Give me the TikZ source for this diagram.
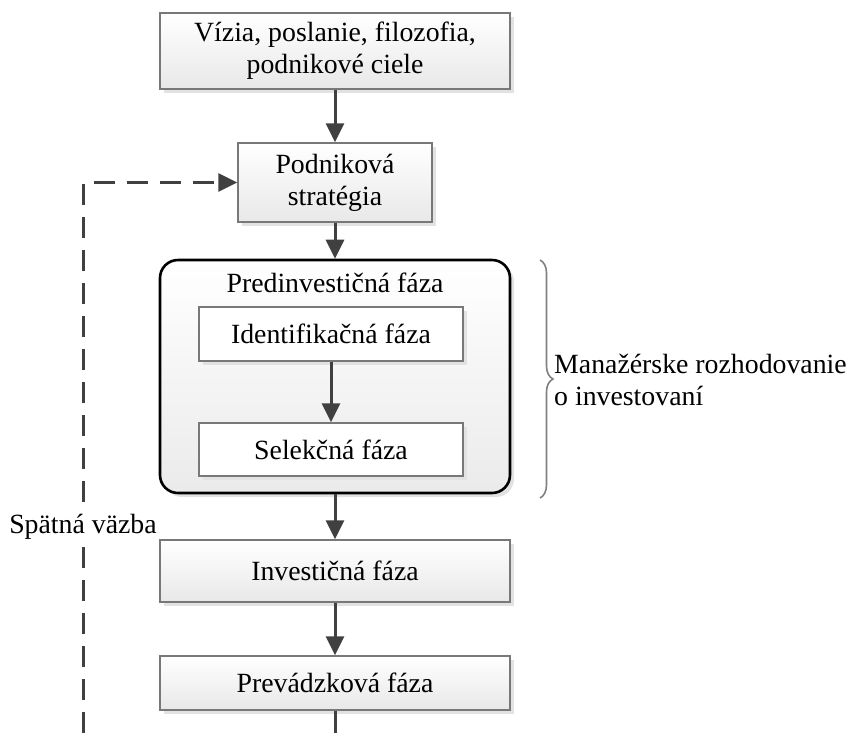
\documentclass[tikz,border=0pt]{standalone}
\usepackage{fontspec}
\setmainfont{Liberation Serif}
\usetikzlibrary{arrows.meta,shadows,decorations.pathreplacing}

\definecolor{arrowgray}{HTML}{404040}
\definecolor{boxborder}{HTML}{787878}
\definecolor{shadowgray}{HTML}{E2E2E2}
\definecolor{bracegray}{HTML}{808080}

\tikzset{
  txt/.style={font=\fontsize{27.8}{32}\selectfont, align=center, inner sep=0pt},
  stepbox/.style={txt, draw=boxborder, line width=1.4pt, rectangle,
    top color=white, bottom color=black!9,
    drop shadow={shadow xshift=4pt, shadow yshift=-4pt, fill=shadowgray, opacity=1}},
  innerbox/.style={stepbox, fill=white, top color=white, bottom color=white},
  phasebox/.style={draw=black, line width=2.6pt, rounded corners=18pt, rectangle,
    top color=white, bottom color=black!8,
    drop shadow={shadow xshift=4pt, shadow yshift=-4pt, fill=shadowgray, opacity=1}},
  flow/.style={draw=arrowgray, line width=3pt, -{Triangle[length=19pt, width=18pt]}},
  feedback/.style={draw=arrowgray, line width=3pt, dash pattern=on 21pt off 12pt,
    -{Triangle[length=19pt, width=18pt]}},
}

\begin{document}
\begin{tikzpicture}[x=1pt, y=-1pt]
  \useasboundingbox (0,0) rectangle (854,740);

  % main chain of steps
  \node[stepbox, minimum width=350pt, minimum height=76pt] (vision) at (335,51)
    {Vízia, poslanie, filozofia,\\podnikové ciele};
  \node[stepbox, minimum width=194pt, minimum height=79pt] (strategy) at (335,182.5)
    {Podniková\\stratégia};

  % pre-investment phase container
  \node[phasebox, minimum width=350pt, minimum height=233pt] (preinv) at (335,376.5) {};
  \node[txt] (preinvlabel) at (335,283) {Predinvestičná fáza};
  \node[innerbox, minimum width=264pt, minimum height=54pt] (ident) at (331,334)
    {Identifikačná fáza};
  \node[innerbox, minimum width=264pt, minimum height=53pt] (select) at (331,449.5)
    {Selekčná fáza};

  \node[stepbox, minimum width=350pt, minimum height=62pt] (invest) at (335,571)
    {Investičná fáza};
  \node[stepbox, minimum width=350pt, minimum height=54pt] (operate) at (335,683)
    {Prevádzková fáza};

  % connectors
  \draw[flow] (vision) -- (strategy);
  \draw[flow] (strategy) -- (preinv);
  \draw[flow] (ident) -- (select);
  \draw[flow] (preinv) -- (invest);
  \draw[flow] (invest) -- (operate);
  \coordinate (tail) at (335,733);
  \draw[draw=arrowgray, line width=3pt] (operate) -- (tail);

  % feedback loop
  \coordinate (fbstart) at (83,733);
  \draw[feedback] (fbstart) |- (strategy.west);
  \node[txt, fill=white, inner sep=2pt] (fblabel) at (83,527) {Spätná väzba};

  % decision-making brace
  \coordinate (bracetop) at (540,260);
  \coordinate (bracebot) at (540,498);
  \draw[bracegray, line width=1.6pt, decorate,
        decoration={brace, amplitude=13pt, aspect=0.5}] (bracetop) -- (bracebot);
  \node[txt, align=left, anchor=west] (mgmt) at (554,380)
    {Manažérske rozhodovanie\\o investovaní};
\end{tikzpicture}
\end{document}
